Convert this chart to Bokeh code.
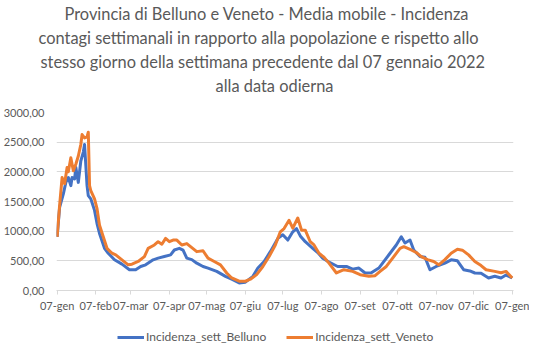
import datetime as dt
from bokeh.plotting import figure
from bokeh.layouts import column
from bokeh.models import Range1d, FixedTicker, Title, Legend, LegendItem, ColumnDataSource
from bokeh.embed import file_html
from bokeh.resources import INLINE

# ---------------- data (day offsets from 07 Jan 2022) ----------------
start = dt.date(2022, 1, 7)

belluno_days = [0, 2, 5, 7, 9, 11, 12, 14, 15, 17, 19, 21, 22, 24, 25, 27, 30, 32, 34, 38, 41, 46,
                52, 58, 63, 67, 71, 77, 81, 86, 91, 94, 98, 101, 104, 108, 112, 117, 121, 128, 135,
                140, 146, 151, 157, 161, 166, 171, 177, 181, 185, 189, 192, 195, 199, 205, 209, 213,
                218, 225, 232, 237, 242, 247, 252, 258, 263, 267, 272, 276, 279, 283, 286, 291, 295,
                299, 304, 311, 316, 321, 326, 331, 335, 340, 346, 351, 356, 360, 365]
belluno_vals = [905, 1400, 1628, 1822, 1905, 1767, 1905, 1880, 2072, 1822, 2183, 2333, 2461, 1767,
                1600, 1545, 1350, 1128, 961, 711, 628, 517, 444, 350, 350, 405, 433, 517, 545, 572,
                600, 683, 711, 680, 545, 520, 461, 405, 378, 322, 239, 190, 128, 140, 239, 378, 489,
                655, 878, 940, 850, 989, 1044, 920, 822, 711, 640, 545, 480, 405, 405, 360, 378, 295,
                300, 378, 517, 628, 767, 905, 800, 850, 683, 572, 560, 350, 405, 461, 517, 500, 350,
                330, 295, 290, 211, 240, 211, 260, 211]

veneto_days = [0, 2, 4, 6, 8, 9, 11, 13, 15, 17, 19, 20, 22, 24, 25, 26, 27, 30, 32, 34, 37, 40, 44,
               47, 53, 57, 60, 65, 70, 73, 78, 81, 84, 87, 90, 93, 96, 100, 104, 107, 112, 117, 121,
               126, 131, 136, 140, 146, 151, 155, 160, 165, 170, 175, 179, 182, 186, 189, 193, 196,
               199, 203, 206, 210, 214, 218, 224, 230, 237, 243, 250, 255, 259, 264, 270, 275, 278,
               284, 288, 292, 297, 302, 306, 311, 316, 321, 325, 330, 335, 340, 344, 351, 356, 360, 365]
veneto_vals = [905, 1433, 1905, 1800, 2072, 2000, 2238, 2017, 2128, 2267, 2461, 2628, 2572, 2590,
               2667, 1767, 1683, 1545, 1378, 1100, 905, 711, 628, 600, 500, 433, 444, 489, 572, 711,
               767, 822, 780, 878, 822, 850, 850, 767, 790, 739, 655, 670, 545, 489, 433, 295, 211,
               156, 156, 190, 267, 405, 572, 767, 989, 1044, 1183, 1050, 1222, 1017, 1017, 822, 767,
               628, 560, 461, 295, 350, 322, 267, 239, 250, 322, 405, 572, 711, 739, 683, 640, 572,
               520, 489, 433, 520, 628, 695, 680, 600, 489, 420, 350, 322, 300, 322, 211]

tick_dates = [dt.date(2022, m, 7) for m in range(1, 13)] + [dt.date(2023, 1, 7)]
tick_labels = ["07-gen", "07-feb", "07-mar", "07-apr", "07-mag", "07-giu", "07-lug",
               "07-ago", "07-set", "07-ott", "07-nov", "07-dic", "07-gen"]
y_ticks = [0, 500, 1000, 1500, 2000, 2500, 3000]
y_labels = ["0,00", "500,00", "1000,00", "1500,00", "2000,00", "2500,00", "3000,00"]
series_names = ["Incidenza_sett_Belluno", "Incidenza_sett_Veneto"]

title_lines = [
    "Provincia di Belluno e Veneto -  Media mobile - Incidenza",
    "contagi settimanali in rapporto alla popolazione e rispetto allo",
    "stesso giorno della settimana precedente dal 07 gennaio 2022",
    "alla data odierna",
]
# horizontal shift of each title line (px from frame left, left aligned)
title_offsets = [8, -18, -16, 159]

# ---------------- figure ----------------
FONT = "Lato"
GREY = "#595959"
BLUE = "#4472C4"
ORANGE = "#ED7D31"
tick_days = [(d - start).days for d in tick_dates]

p = figure(width=529, frame_height=178,
           x_range=Range1d(-0.5, 366), y_range=Range1d(0, 3000),
           output_backend="svg", toolbar_location=None,
           min_border_left=0, min_border_right=16, min_border_top=0, min_border_bottom=0,
           outline_line_color=None, background_fill_color="white")

# spacer between title block and plot frame
p.add_layout(Title(text=" ", text_font_size="12px", standoff=0), "above")
for line, off in reversed(list(zip(title_lines, title_offsets))):
    p.add_layout(Title(text=line, align="left", text_font=FONT, text_font_size="16.4px",
                       text_color=GREY, text_font_style="normal", standoff=3.3, offset=off),
                 "above")

src_b = ColumnDataSource(dict(x=belluno_days, y=belluno_vals))
src_v = ColumnDataSource(dict(x=veneto_days, y=veneto_vals))
p.line("x", "y", source=src_b, line_color=BLUE, line_width=3, line_join="round")
p.line("x", "y", source=src_v, line_color=ORANGE, line_width=3, line_join="round")

# axes
p.xaxis.ticker = FixedTicker(ticks=tick_days)
p.xaxis.major_label_overrides = {d: lab for d, lab in zip(tick_days, tick_labels)}
p.xaxis.axis_line_color = "#D9D9D9"
p.xaxis.major_tick_line_color = "#D9D9D9"
p.xaxis.major_tick_out = 4
p.xaxis.major_tick_in = 0
p.xaxis.minor_tick_line_color = None
p.xaxis.major_label_standoff = 4
p.xaxis.major_label_text_font = FONT
p.xaxis.major_label_text_font_size = "11px"
p.xaxis.major_label_text_color = GREY

p.yaxis.ticker = FixedTicker(ticks=y_ticks)
p.yaxis.major_label_overrides = {v: lab for v, lab in zip(y_ticks, y_labels)}
p.yaxis.axis_line_color = None
p.yaxis.major_tick_line_color = None
p.yaxis.minor_tick_line_color = None
p.yaxis.major_label_standoff = 6
p.yaxis.major_label_text_font = FONT
p.yaxis.major_label_text_font_size = "11px"
p.yaxis.major_label_text_color = GREY

p.xgrid.grid_line_color = None
p.ygrid.grid_line_color = "#D9D9D9"
p.ygrid.grid_line_width = 1

# ---------------- legend strip below the chart ----------------
pl = figure(width=529, height=40, output_backend="svg", toolbar_location=None,
            x_axis_location=None, y_axis_location=None,
            x_range=Range1d(0, 1), y_range=Range1d(0, 1),
            min_border=0, outline_line_color=None)
pl.grid.grid_line_color = None
# legend-only renderers: their points lie outside the strip's ranges, so only the key shows
lb = pl.line(x=[-10, -9], y=[-10, -10], line_color=BLUE, line_width=3)
lv = pl.line(x=[-10, -9], y=[-10, -10], line_color=ORANGE, line_width=3)
legend = Legend(items=[LegendItem(label=series_names[0], renderers=[lb]),
                       LegendItem(label=series_names[1], renderers=[lv])],
                orientation="horizontal", location=(61, 10),
                label_text_font=FONT, label_text_font_size="12px", label_text_color=GREY,
                glyph_width=27, glyph_height=12, spacing=20, label_standoff=2,
                border_line_color=None, background_fill_alpha=0, margin=0, padding=3)
pl.add_layout(legend)

open("out.html", "w").write(file_html(column(p, pl, spacing=0), INLINE))
